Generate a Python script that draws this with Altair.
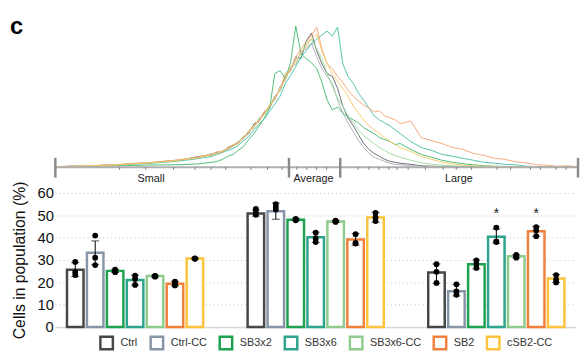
import altair as alt
import pandas as pd

FONT = "Liberation Sans"

# ---------------- bottom panel data ----------------
groups = ["Small", "Average", "Large"]
conds = ["Ctrl", "Ctrl-CC", "SB3x2", "SB3x6", "SB3x6-CC", "SB2", "cSB2-CC"]

mean_small = [25.6, 33.2, 25.1, 21.0, 22.8, 19.3, 30.6]
mean_avg = [50.8, 51.8, 48.0, 40.1, 47.2, 39.1, 49.0]
mean_large = [24.4, 16.0, 28.1, 40.4, 31.6, 42.8, 21.7]

lo_small = [22.5, 27.9, 24.4, 18.7, 22.3, 18.4, 30.3]
hi_small = [28.8, 38.5, 25.8, 23.2, 23.1, 20.4, 30.9]
lo_avg = [49.6, 48.2, 47.5, 37.8, 46.8, 36.6, 46.8]
hi_avg = [52.4, 55.4, 48.6, 42.4, 47.7, 41.8, 51.3]
lo_large = [19.5, 13.9, 26.0, 37.5, 30.9, 40.6, 19.9]
hi_large = [28.2, 19.1, 30.0, 43.8, 32.3, 44.9, 23.4]

pts_small = [[29.1, 24.5, 23.2], [40.9, 31.0, 27.7], [25.7, 25.0, 24.5], [23.0, 21.5, 18.8],
             [22.9, 22.7, 22.5], [20.3, 19.3, 18.6], [30.7, 30.6, 30.5]]
pts_avg = [[52.8, 51.4, 50.2], [55.0, 53.8, 52.6], [48.4, 48.0, 47.7], [42.2, 39.6, 38.0],
           [47.6, 47.3, 47.0], [41.5, 37.6, 37.3], [51.0, 49.0, 47.4]]
pts_large = [[28.1, 24.7, 19.7], [19.1, 15.9, 14.4], [29.8, 28.2, 26.4], [44.5, 38.3, 38.0],
             [32.2, 31.6, 31.0], [44.7, 43.2, 40.6], [23.2, 21.2, 19.9]]

sig_large = ["", "", "", "*", "", "*", ""]
sig_y = 50.5

bar_colors = ["#474747", "#8796a6", "#1fa24f", "#2ea48f", "#8fcb8d", "#f0803c", "#fcc33c"]
line_colors = ["#5a6068", "#a5acb4", "#3fb46a", "#3fbfa6", "#9ad99a", "#f5a070", "#f9c860"]

# ---------------- top panel data ----------------
size_grid = list(range(0, 31, 3)) + list(range(31, 67)) + list(range(68, 101, 2))

curve_ctrl = [0.4, 1.0, 1.1, 2.0, 2.3, 3.8, 4.2, 6.0, 7.0, 10.5, 12.5,
              15, 15.5, 20, 22, 24, 31, 34, 44, 47, 56, 60, 72, 78, 92, 98, 112, 110, 128, 136,
              118, 105, 95, 92, 80, 62, 50, 42, 33, 24, 18, 14, 11, 8, 6, 5, 4,
              3, 1.5, 1.0, 0.8, 0.6, 0.5, 0.5, 0.4, 0.4, 0.3, 0.3, 0.3, 0.2, 0.2, 0.2, 0.2, 0.2]
curve_ctrl_cc = [0.6, 0.9, 1.4, 1.7, 2.8, 3.3, 4.8, 5.3, 8.0, 9.0, 14,
                 14, 17, 18, 22, 26, 29, 37, 40, 50, 54, 63, 68, 82, 88, 102, 104, 118, 120, 126,
                 112, 100, 92, 85, 68, 55, 45, 36, 27, 20, 14, 10, 8, 6, 4, 3, 2.5,
                 1.5, 1.0, 0.8, 0.6, 0.5, 0.4, 0.4, 0.3, 0.3, 0.3, 0.2, 0.2, 0.2, 0.2, 0.2, 0.2, 0.2]
curve_sb3x2 = [0.3, 0.5, 0.7, 1.0, 1.3, 1.8, 2.2, 2.4, 2.6, 3.2, 5,
               6, 8, 11, 13, 17, 21, 28, 34, 42, 50, 60, 95, 98, 90, 106, 143, 115, 110, 106,
               100, 86, 68, 58, 61, 55, 51, 48, 45, 40, 37, 34, 30, 28, 26, 23, 24,
               18, 13, 10, 7, 5, 3.5, 2.5, 1.5, 1.0, 0.8, 0.6, 0.5, 0.4, 0.3, 0.3, 0.2, 0.2]
curve_sb3x6 = [0.4, 0.7, 1.0, 1.6, 2.4, 3.0, 4.0, 5.0, 6.5, 8.5, 11,
               13, 15, 17, 19, 22, 27, 31, 38, 44, 49, 57, 64, 72, 85, 93, 102, 112, 118, 125,
               130, 134, 138, 133, 142, 105, 92, 85, 75, 68, 60, 52, 48, 45, 42, 38, 34,
               26, 20, 17, 13, 11, 9, 7, 5, 4, 3, 2.5, 1.0, 0.7, 0.5, 0.4, 0.3, 0.3]
curve_sb3x6_cc = [0.5, 0.9, 1.3, 1.9, 2.6, 3.6, 4.6, 5.8, 7.2, 9.8, 13.5,
                  15, 16.5, 18, 21, 26, 29, 36, 41, 49, 53, 63, 71, 78, 91, 99, 109, 115, 125, 130,
                  120, 110, 95, 82, 70, 62, 52, 45, 38, 32, 28, 24, 20, 17, 14, 12, 10,
                  7, 4.5, 3, 2, 1.5, 1.0, 0.6, 0.5, 0.4, 0.3, 0.3, 0.2, 0.2, 0.2, 0.2, 0.2, 0.2]
curve_sb2 = [0.5, 1.1, 1.2, 2.2, 2.4, 3.9, 4.4, 6.2, 7.6, 10, 13,
             16, 15, 20, 23, 25, 30, 36, 43, 46, 57, 61, 71, 79, 95, 98, 112, 120, 127, 134,
             142, 120, 105, 100, 92, 86, 78, 72, 67, 63, 60, 56, 57, 52, 50, 48, 44,
             47, 30, 27, 24, 20, 18, 14, 12, 9, 8, 5.5, 4.5, 2.5, 2, 1, 1.5, 0.5]
curve_csb2_cc = [0.4, 0.8, 1.3, 1.7, 2.5, 3.4, 4.7, 5.4, 7.4, 9.2, 12.5,
                 14, 16.5, 18.5, 21.5, 24, 31, 35, 41, 48, 54, 62, 69, 80, 89, 101, 107, 117, 122, 131,
                 135, 118, 105, 95, 87, 80, 72, 62, 55, 48, 42, 38, 34, 30, 26, 23, 20,
                 16, 11, 8, 5, 3.5, 2, 1.5, 1.0, 0.8, 0.6, 0.5, 0.4, 0.3, 0.3, 0.2, 0.2, 0.2]

curves = [curve_ctrl, curve_ctrl_cc, curve_sb3x2, curve_sb3x6, curve_sb3x6_cc, curve_sb2, curve_csb2_cc]

gate_edges = [0, 44.7, 54.5, 100]
gate_names = ["Small", "Average", "Large"]
gate_label_pos = [18.3, 49.4, 77.2]
minor_ticks = [12.3, 17.3, 22.6, 26.7, 29.8, 32.6, 37.4, 40.6, 43.4, 46.2, 48.1, 50.0, 51.9,
               57.9, 60.0, 61.9, 63.8, 65.4, 67.5, 70.8, 74.2, 76.7, 79.6, 84.5, 87.1,
               90.9, 92.8, 95.8, 97.7]

# ---------------- tables ----------------
line_rows = []
for c, vals in zip(conds, curves):
    for s, v in zip(size_grid, vals):
        line_rows.append({"cond": c, "size": s, "count": v})
lines_df = pd.DataFrame(line_rows)

bar_rows, pt_rows = [], []
for g, means, los, his, pts in [
    ("Small", mean_small, lo_small, hi_small, pts_small),
    ("Average", mean_avg, lo_avg, hi_avg, pts_avg),
    ("Large", mean_large, lo_large, hi_large, pts_large),
]:
    for i, c in enumerate(conds):
        sig = sig_large[i] if g == "Large" else ""
        bar_rows.append({"group": g, "cond": c, "mean": means[i], "lo": los[i], "hi": his[i],
                         "sig": sig, "sig_y": sig_y})
        for p in pts[i]:
            pt_rows.append({"group": g, "cond": c, "val": p})
bars_df = pd.DataFrame(bar_rows)
pts_df = pd.DataFrame(pt_rows)
sig_df = bars_df[bars_df["sig"] != ""]

# ---------------- top panel ----------------
xs = alt.Scale(domain=[gate_edges[0], gate_edges[-1]], nice=False, zero=False)
ys = alt.Scale(domain=[-20, 159], nice=False, zero=False)

lines = alt.Chart(lines_df).mark_line(strokeWidth=1, opacity=0.9).encode(
    x=alt.X("size:Q", scale=xs, axis=None),
    y=alt.Y("count:Q", scale=ys, axis=None),
    color=alt.Color("cond:N", scale=alt.Scale(domain=conds, range=line_colors), legend=None),
)

base_df = pd.DataFrame({"size": [gate_edges[0]], "size2": [gate_edges[-1]], "count": [0]})
baseline = alt.Chart(base_df).mark_rule(color="#b0b0b0", strokeWidth=2).encode(
    x="size:Q", x2="size2:Q", y="count:Q")

edges_df = pd.DataFrame({"size": gate_edges, "lo": [-10.5] * 4, "hi": [9.5] * 4})
edges = alt.Chart(edges_df).mark_rule(color="#8a8a8a", strokeWidth=2.5).encode(
    x="size:Q", y="lo:Q", y2="hi:Q")

minor_df = pd.DataFrame({"size": minor_ticks, "lo": [-2.5] * len(minor_ticks), "hi": [0] * len(minor_ticks)})
minor = alt.Chart(minor_df).mark_rule(color="#777777", strokeWidth=1).encode(
    x="size:Q", y="lo:Q", y2="hi:Q")

glab_df = pd.DataFrame({"size": gate_label_pos, "count": [-11.5] * 3, "name": gate_names})
glabels = alt.Chart(glab_df).mark_text(fontSize=11, color="#222222", baseline="middle",
                                        font=FONT).encode(x="size:Q", y="count:Q", text="name:N")

panel_df = pd.DataFrame({"size": [-7.4], "count": [135.5], "name": ["c"]})
panel_lab = alt.Chart(panel_df).mark_text(fontSize=24, fontWeight="bold", color="#000000",
                                          baseline="alphabetic", align="center", font=FONT).encode(
    x="size:Q", y="count:Q", text="name:N")

top = alt.layer(lines, baseline, minor, edges, glabels, panel_lab).properties(width=530, height=179)

# ---------------- bottom panel ----------------
x_enc = alt.X("group:N", sort=groups,
              scale=alt.Scale(domain=groups, paddingInner=0.227, paddingOuter=0.055),
              axis=alt.Axis(labels=False, ticks=False, title=None, domainColor="#d8d8d8",
                            domainWidth=1.5))
xo_enc = alt.XOffset("cond:N", sort=conds,
                     scale=alt.Scale(domain=conds, paddingInner=0.172, paddingOuter=0.086))
y_scale = alt.Scale(domain=[0, 60], nice=False)
y_axis = alt.Axis(values=[0, 10, 20, 30, 40, 50, 60], grid=True, gridDash=[1, 3], gridColor="#c4c4c4",
                  gridWidth=1, domain=False, ticks=False, labelFontSize=15, labelPadding=2,
                  labelOverlap=False, labelColor="#111111", labelFont=FONT,
                  title="Cells in population (%)",
                  titleFontSize=16, titleFontWeight="normal", titleFont=FONT, titleColor="#111111",
                  titlePadding=10)


def yq(field):
    return alt.Y(field + ":Q", scale=y_scale, axis=y_axis)


bars = alt.Chart(bars_df).mark_bar(fill="white", strokeWidth=2.5).encode(
    x=x_enc, xOffset=xo_enc,
    y=yq("mean"),
    stroke=alt.Stroke("cond:N", scale=alt.Scale(domain=conds, range=bar_colors),
                      legend=alt.Legend(orient="none", legendX=44, legendY=144,
                                        direction="horizontal", columns=7, title=None,
                                        symbolType="square", symbolSize=160,
                                        symbolStrokeWidth=2.5, symbolFillColor="white",
                                        labelFontSize=11, labelFont=FONT, labelColor="#333333",
                                        labelOffset=6, columnPadding=7, padding=0)),
)
err = alt.Chart(bars_df).mark_rule(color="black", strokeWidth=1).encode(
    x=x_enc, xOffset=xo_enc, y=yq("lo"), y2="hi:Q")
cap_lo = alt.Chart(bars_df).mark_tick(color="black", thickness=1, size=8).encode(
    x=x_enc, xOffset=xo_enc, y=yq("lo"))
cap_hi = alt.Chart(bars_df).mark_tick(color="black", thickness=1, size=8).encode(
    x=x_enc, xOffset=xo_enc, y=yq("hi"))
dots = alt.Chart(pts_df).mark_circle(color="black", size=34, opacity=1).encode(
    x=x_enc, xOffset=xo_enc, y=yq("val"))
stars = alt.Chart(sig_df).mark_text(fontSize=14, color="#222222", baseline="middle", font=FONT).encode(
    x=x_enc, xOffset=xo_enc, y=yq("sig_y"), text="sig:N")

bottom = alt.layer(bars, err, cap_lo, cap_hi, dots, stars).properties(width=528, height=136)

chart = alt.vconcat(top, bottom, spacing=6, bounds="flush").resolve_scale(
    color="independent", stroke="independent"
).resolve_legend(stroke="independent").properties(
    padding={"left": 2, "top": 0, "right": 0, "bottom": 0}).configure(
    font=FONT).configure_view(stroke=None)

chart.save("out.html", embed_options={"renderer": "svg", "actions": False})
